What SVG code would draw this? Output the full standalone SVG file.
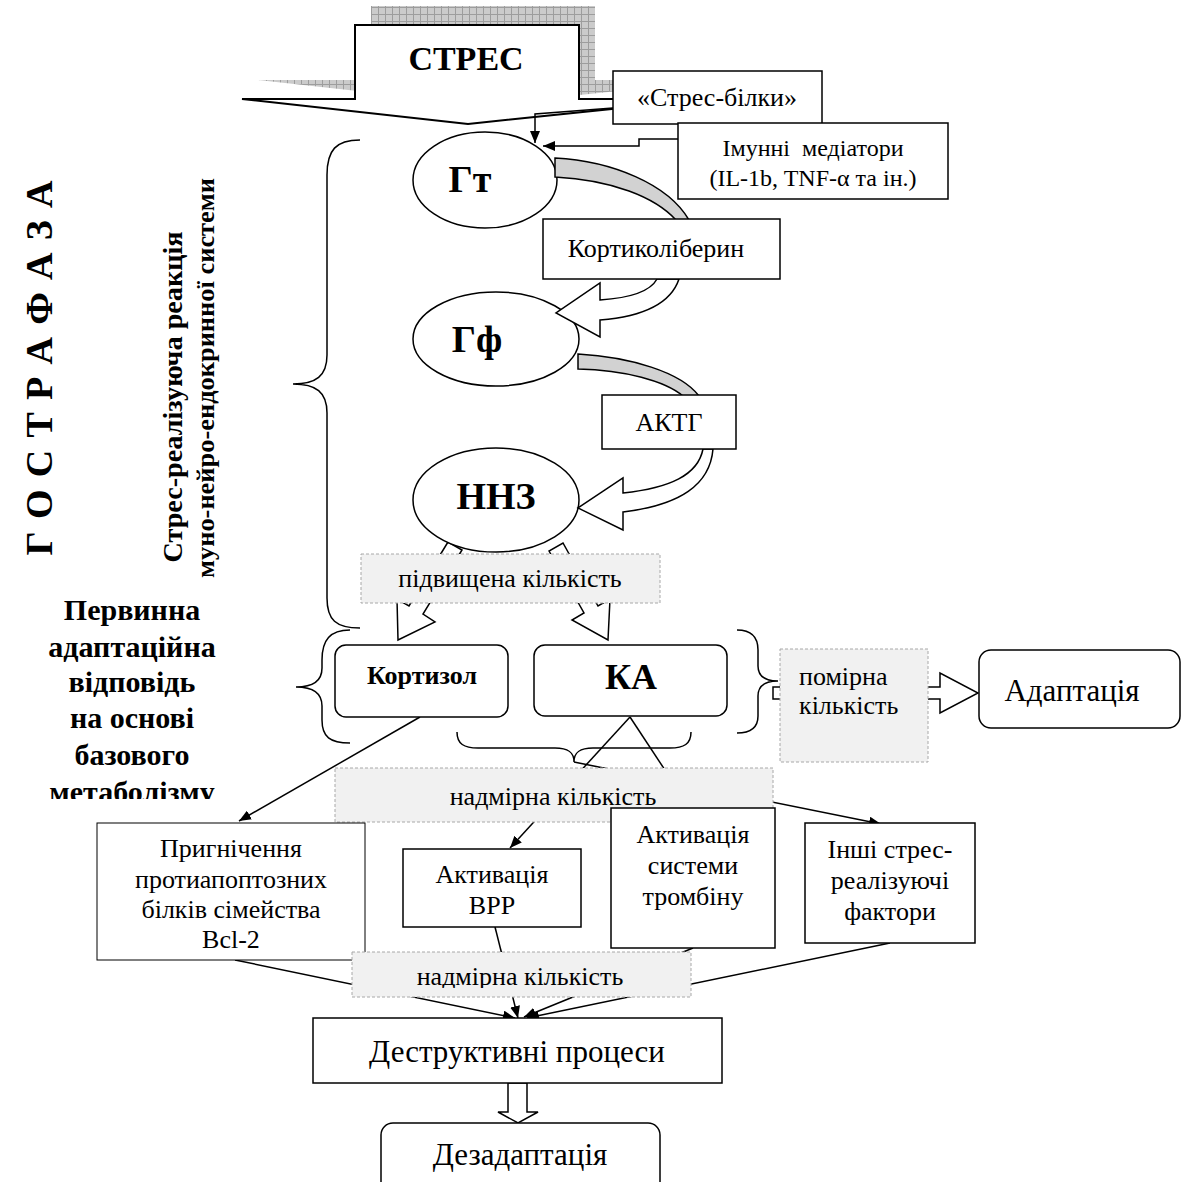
<svg xmlns="http://www.w3.org/2000/svg" width="1184" height="1182" viewBox="0 0 1184 1182">
<style>
text{font-family:"Liberation Serif","Times New Roman",serif;fill:#000}
.b{font-weight:bold}
.c{text-anchor:middle}
.box{fill:#fff;stroke:#000;stroke-width:1.5}
.gbox{fill:#f1f1f1;stroke:#a8a8a8;stroke-width:1;stroke-dasharray:3,2}
.ln{fill:none;stroke:#000;stroke-width:1.5}
.wa{fill:#fff;stroke:#000;stroke-width:1.5;stroke-linejoin:miter}
.ga{fill:#d2d2d2;stroke:#000;stroke-width:1.5}
.t26{font-size:26px}
.t30{font-size:31px}
</style>
<defs>
<pattern id="hatch" width="7" height="7" patternUnits="userSpaceOnUse"><rect width="7" height="7" fill="#cbcbcb"/><path d="M0,0.5H7M0.5,0V7" stroke="#9d9d9d" stroke-width="1"/></pattern>
<marker id="ah" viewBox="0 0 12 10" refX="12" refY="5" markerWidth="12" markerHeight="10" markerUnits="userSpaceOnUse" orient="auto"><path d="M0,0L12,5L0,10Z" fill="#000"/></marker>
<clipPath id="clipMet"><rect x="0" y="560" width="330" height="239"/></clipPath>
<clipPath id="clipN2"><rect x="352" y="952" width="340" height="36"/></clipPath>
<clipPath id="clipInshi"><rect x="805" y="823" width="170" height="110"/></clipPath>
</defs>

<!-- left side labels -->
<g id="title-phase">
<text class="b" font-size="38" text-anchor="middle" transform="translate(52,368) rotate(-90)" textLength="375" lengthAdjust="spacing">Г О С Т Р А   Ф А З А</text>
</g>
<g id="label-reaction">
<text class="b" font-size="27" text-anchor="middle" transform="translate(182,397) rotate(-90)" textLength="331" lengthAdjust="spacingAndGlyphs">Стрес-реалізуюча реакція</text>
<text class="b" font-size="26" text-anchor="middle" transform="translate(214,378) rotate(-90)" textLength="400" lengthAdjust="spacingAndGlyphs">муно-нейро-ендокринної системи</text>
</g>
<g id="label-primary" clip-path="url(#clipMet)">
<text class="b c" font-size="30" x="132" y="620">Первинна</text>
<text class="b c" font-size="30" x="132" y="657">адаптаційна</text>
<text class="b c" font-size="30" x="132" y="692">відповідь</text>
<text class="b c" font-size="30" x="132" y="728">на основі</text>
<text class="b c" font-size="30" x="132" y="765">базового</text>
<text class="b c" font-size="30" x="132" y="802">метаболізму</text>
</g>

<!-- braces -->
<g id="braces">
<path class="ln" d="M360,140 C336,140 327,150 327,175 L327,355 C327,376 316,384 293,384 C316,384 327,392 327,413 L327,598 C327,620 336,628 360,628"/>
<path class="ln" d="M350,630 C330,630 322,640 322,660 L322,668 C322,681 313,687 296,687 C313,687 322,693 322,706 L322,720 C322,737 330,743 350,743"/>
<path class="ln" d="M737,630 C752,630 758,637 758,650 L758,666 C758,676 765,681 778,681 C765,681 758,686 758,696 L758,716 C758,727 752,733 737,733"/>
<path class="ln" d="M457,732 C457,744 464,748 478,748 L555,748 C568,748 574,752 574,762 C574,752 580,748 593,748 L670,748 C684,748 691,744 691,732"/>
</g>

<!-- STRES callout -->
<g id="stres">
<polygon points="258,80 371,80 371,6 595,6 595,80 656,80 656,87 484,105" fill="url(#hatch)"/>
<polygon points="242,99 355,99 355,25 579,25 579,99 640,99 640,106 468,124" fill="#fff" stroke="#000" stroke-width="2"/>
<text class="b c" font-size="34" x="466" y="70">СТРЕС</text>
</g>

<!-- connectors -->
<g id="connectors">
<path class="ln" d="M613,108 L535,114 L535,143" marker-end="url(#ah)"/>
<path class="ln" d="M678,139 H639 V146 H543" marker-end="url(#ah)"/>
<polygon class="wa" points="448,542 409,606 397,599 398,640 435,622 423,614 462,550"/>
<polygon class="wa" points="549,551 584,613 572,620 608,640 610,599 598,606 563,543"/>
<path class="ln" d="M420,717 L239,821" marker-end="url(#ah)"/>
<path class="ln" d="M630,717 L510,848" marker-end="url(#ah)"/>
<path class="ln" d="M630,717 L690,808" marker-end="url(#ah)"/>
<path class="ln" d="M574,762 L881,824" marker-end="url(#ah)"/>
<path class="ln" d="M235,960 L515,1018" marker-end="url(#ah)"/>
<path class="ln" d="M495,927 L518,1018" marker-end="url(#ah)"/>
<path class="ln" d="M693,948 L524,1017" marker-end="url(#ah)"/>
<path class="ln" d="M890,943 L527,1018" marker-end="url(#ah)"/>
<polygon class="wa" points="773,687 940,687 940,673 978,693 940,713 940,699 773,699"/>
<polygon class="wa" points="508,1083 527,1083 527,1112 538,1112 518,1123 498,1112 508,1112"/>
</g>

<!-- ellipses -->
<g id="node-gt">
<ellipse cx="485" cy="180" rx="72" ry="48" class="box"/>
<text class="b c" font-size="38" x="470" y="192">Гт</text>
</g>
<g id="node-gf">
<ellipse cx="496" cy="339" rx="83" ry="47" class="box"/>
<text class="b c" font-size="38" x="477" y="352">Гф</text>
</g>
<g id="node-nnz">
<ellipse cx="496" cy="500" rx="83" ry="52" class="box"/>
<text class="b c" font-size="38" x="496" y="509">ННЗ</text>
</g>

<!-- hormone flow arrows -->
<g id="flow-arrows">
<path class="ga" d="M555,158 C612,161 668,184 689,220 L676,220 C655,197 612,180 555,177 Z"/>
<path class="wa" d="M657,279 C650,292 630,298 600,300 L600,283 L556,313 L600,337 L600,320 C650,316 672,300 679,279 Z"/>
<path class="ga" d="M578,354 C630,357 681,372 699,396 L683,396 C665,381 625,370 578,369 Z"/>
<path class="wa" d="M703,449 C698,475 670,488 623,493 L623,478 L578,508 L623,530 L623,512 C680,505 710,485 713,449 Z"/>
</g>

<g id="node-stress-proteins">
<rect x="613" y="71" width="209" height="53" class="box"/>
<text class="c t26" x="717" y="106">«Стрес-білки»</text>
</g>
<g id="node-immune">
<rect x="678" y="123" width="270" height="76" class="box"/>
<text class="c" font-size="24" x="813" y="156" xml:space="preserve">Імунні  медіатори</text>
<text class="c" font-size="24" x="813" y="186">(IL-1b, TNF-α та ін.)</text>
</g>
<g id="node-crh">
<rect x="543" y="219" width="237" height="60" class="box"/>
<text class="c t26" x="656" y="257">Кортиколіберин</text>
</g>
<g id="node-acth">
<rect x="602" y="395" width="134" height="54" class="box"/>
<text class="c t26" x="669" y="431">АКТГ</text>
</g>

<g id="label-elevated">
<rect x="361" y="554" width="299" height="49" class="gbox"/>
<text class="c t26" x="510" y="587">підвищена кількість</text>
</g>

<g id="node-cortisol">
<rect x="335" y="645" width="173" height="72" rx="11" class="box"/>
<text class="b c" font-size="26" x="422" y="684">Кортизол</text>
</g>
<g id="node-ka">
<rect x="534" y="645" width="193" height="71" rx="11" class="box"/>
<text class="b c" font-size="36" x="631" y="689">КА</text>
</g>

<g id="label-moderate">
<rect x="780" y="649" width="148" height="113" class="gbox"/>
<text class="t26" x="799" y="685">помірна</text>
<text class="t26" x="799" y="714">кількість</text>
</g>
<g id="node-adaptation">
<rect x="979" y="650" width="201" height="78" rx="12" class="box"/>
<text class="c t30" x="1072" y="701">Адаптація</text>
</g>

<g id="label-excess-1">
<rect x="335" y="768" width="438" height="54" class="gbox"/>
<text class="c t26" x="553" y="805">надмірна кількість</text>
</g>

<g id="node-bcl2">
<rect x="97" y="823" width="268" height="137" fill="#fff" stroke="#000" stroke-width="1"/>
<text class="c t26" x="231" y="857">Пригнічення</text>
<text class="c t26" x="231" y="888">протиапоптозних</text>
<text class="c t26" x="231" y="918">білків сімейства</text>
<text class="c t26" x="231" y="948">Bcl-2</text>
</g>
<g id="node-vrr">
<rect x="403" y="849" width="178" height="78" class="box"/>
<text class="c t26" x="492" y="883">Активація</text>
<text class="c t26" x="492" y="914">ВРР</text>
</g>
<g id="node-thrombin">
<rect x="611" y="808" width="164" height="140" class="box"/>
<text class="c t26" x="693" y="843">Активація</text>
<text class="c t26" x="693" y="874">системи</text>
<text class="c t26" x="693" y="905">тромбіну</text>
</g>
<g id="node-other">
<rect x="805" y="823" width="170" height="120" class="box"/>
<g clip-path="url(#clipInshi)">
<text class="c t26" x="890" y="858">Інші стрес-</text>
<text class="c t26" x="890" y="889">реалізуючі</text>
<text class="c t26" x="890" y="920">фактори</text>
</g>
</g>

<g id="label-excess-2">
<rect x="352" y="952" width="339" height="45" class="gbox"/>
<g clip-path="url(#clipN2)">
<text class="c t26" x="520" y="985">надмірна кількість</text>
</g>
</g>

<g id="node-destructive">
<rect x="313" y="1018" width="409" height="65" class="box"/>
<text class="c t30" x="517" y="1062">Деструктивні процеси</text>
</g>
<g id="node-disadaptation">
<rect x="381" y="1123" width="279" height="80" rx="12" class="box"/>
<text class="c t30" x="520" y="1165">Дезадаптація</text>
</g>
</svg>
